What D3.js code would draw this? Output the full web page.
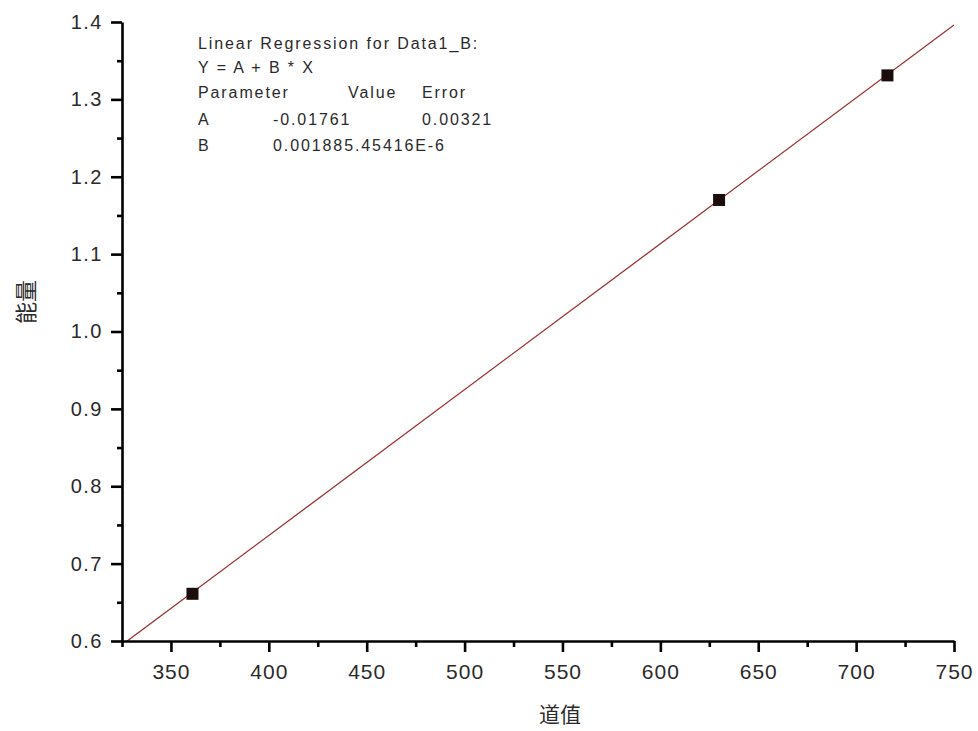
<!DOCTYPE html>
<html>
<head>
<meta charset="utf-8">
<script src="https://cdn.jsdelivr.net/npm/d3@7"></script>
<style>
    body { margin: 0; background: #fff; }
    svg { display: block; }
    .tick text { font-family: "Liberation Sans", Arial, sans-serif; fill: #2a2a2a; }
</style>
</head>
<body>
<div id="chart"></div>
<script>
// measured points
const xValues = [361, 630, 716];
const yValues = [0.661, 1.170, 1.331];

// fit parameters (as printed in the box)
const fitA = -0.01761;
const fitB = 0.001885;

const xTicks = [350, 400, 450, 500, 550, 600, 650, 700, 750];
const xMinorTicks = [325, 375, 425, 475, 525, 575, 625, 675, 725];
const yTicks = [0.6, 0.7, 0.8, 0.9, 1.0, 1.1, 1.2, 1.3, 1.4];
const yMinorTicks = [0.65, 0.75, 0.85, 0.95, 1.05, 1.15, 1.25, 1.35];

const xTitle = '道值';
const yTitle = '能量';

// regression report, one array per row
const reportRows = [
    ['Linear Regression for Data1_B:'],
    ['Y = A + B * X'],
    ['Parameter', 'Value', 'Error'],
    ['A', '-0.01761', '0.00321'],
    ['B', '0.001885.45416E-6']
];

const width = 978;
const height = 731;
const plot = { left: 122, right: 954, top: 22, bottom: 641 };

const svg = d3.select('#chart')
    .append('svg')
    .attr('width', width)
    .attr('height', height);

const x = d3.scaleLinear().domain([325, 750]).range([plot.left, plot.right]);
const y = d3.scaleLinear().domain([0.6, 1.4]).range([plot.bottom, plot.top]);

// clip the fit line to the plot box
svg.append('clipPath').attr('id', 'plot-clip')
    .append('rect')
    .attr('x', plot.left)
    .attr('y', plot.top)
    .attr('width', plot.right - plot.left)
    .attr('height', plot.bottom - plot.top);

// regression line
const fitX = x.domain();
svg.append('line')
    .attr('clip-path', 'url(#plot-clip)')
    .attr('x1', x(fitX[0]))
    .attr('y1', y(fitA + fitB * fitX[0]))
    .attr('x2', x(fitX[1]))
    .attr('y2', y(fitA + fitB * fitX[1]))
    .attr('stroke', '#9a3434')
    .attr('stroke-width', 1.3);

// data squares
const size = 12;
svg.append('g').selectAll('rect')
    .data(xValues.map((d, i) => [d, yValues[i]]))
    .enter()
    .append('rect')
    .attr('x', d => x(d[0]) - size / 2)
    .attr('y', d => y(d[1]) - size / 2)
    .attr('width', size)
    .attr('height', size)
    .attr('fill', '#1c0d0d');

// axes: minor ticks first, then major ones with labels
function styleAxis(g) {
    g.selectAll('path, line').attr('stroke', '#000').attr('stroke-width', 2.6);
}

svg.append('g')
    .attr('transform', `translate(0,${plot.bottom})`)
    .call(d3.axisBottom(x).tickValues(xMinorTicks).tickSize(6).tickFormat(''))
    .call(g => g.select('.domain').remove())
    .call(styleAxis);

svg.append('g')
    .attr('transform', `translate(${plot.left},0)`)
    .call(d3.axisLeft(y).tickValues(yMinorTicks).tickSize(5).tickFormat(''))
    .call(g => g.select('.domain').remove())
    .call(styleAxis);

svg.append('g')
    .attr('transform', `translate(0,${plot.bottom})`)
    .call(d3.axisBottom(x).tickValues(xTicks).tickSize(11).tickSizeOuter(0).tickPadding(12))
    .call(styleAxis)
    .call(g => g.selectAll('text')
        .attr('font-size', 21)
        .attr('letter-spacing', 1));

svg.append('g')
    .attr('transform', `translate(${plot.left},0)`)
    .call(d3.axisLeft(y).tickValues(yTicks).tickSize(11).tickSizeOuter(0).tickPadding(8)
        .tickFormat(d3.format('.1f')))
    .call(styleAxis)
    .call(g => g.selectAll('text')
        .attr('font-size', 20)
        .attr('letter-spacing', 1.5));

// axis titles
svg.append('text')
    .attr('x', 560)
    .attr('y', 722)
    .attr('text-anchor', 'middle')
    .attr('font-family', '"Noto Sans CJK SC", sans-serif')
    .attr('font-size', 21)
    .attr('fill', '#2a2a2a')
    .text(xTitle);

svg.append('text')
    .attr('transform', 'translate(34,302) rotate(-90)')
    .attr('text-anchor', 'middle')
    .attr('font-family', '"Noto Sans CJK SC", sans-serif')
    .attr('font-size', 22)
    .attr('fill', '#2a2a2a')
    .text(yTitle);

// report box text
const columnX = [198, 273, 422];
const headerX = [198, 348, 422];
const rowBaselines = [49, 73, 98, 125, 151];

const report = svg.append('g')
    .attr('font-family', '"Liberation Sans", Arial, sans-serif')
    .attr('font-size', 16)
    .attr('letter-spacing', 1.9)
    .attr('fill', '#2a2a2a');

reportRows.forEach((row, r) => {
    const cols = r === 2 ? headerX : columnX;
    row.forEach((cell, c) => {
        report.append('text')
            .attr('x', cols[c])
            .attr('y', rowBaselines[r])
            .text(cell);
    });
});
</script>
</body>
</html>
